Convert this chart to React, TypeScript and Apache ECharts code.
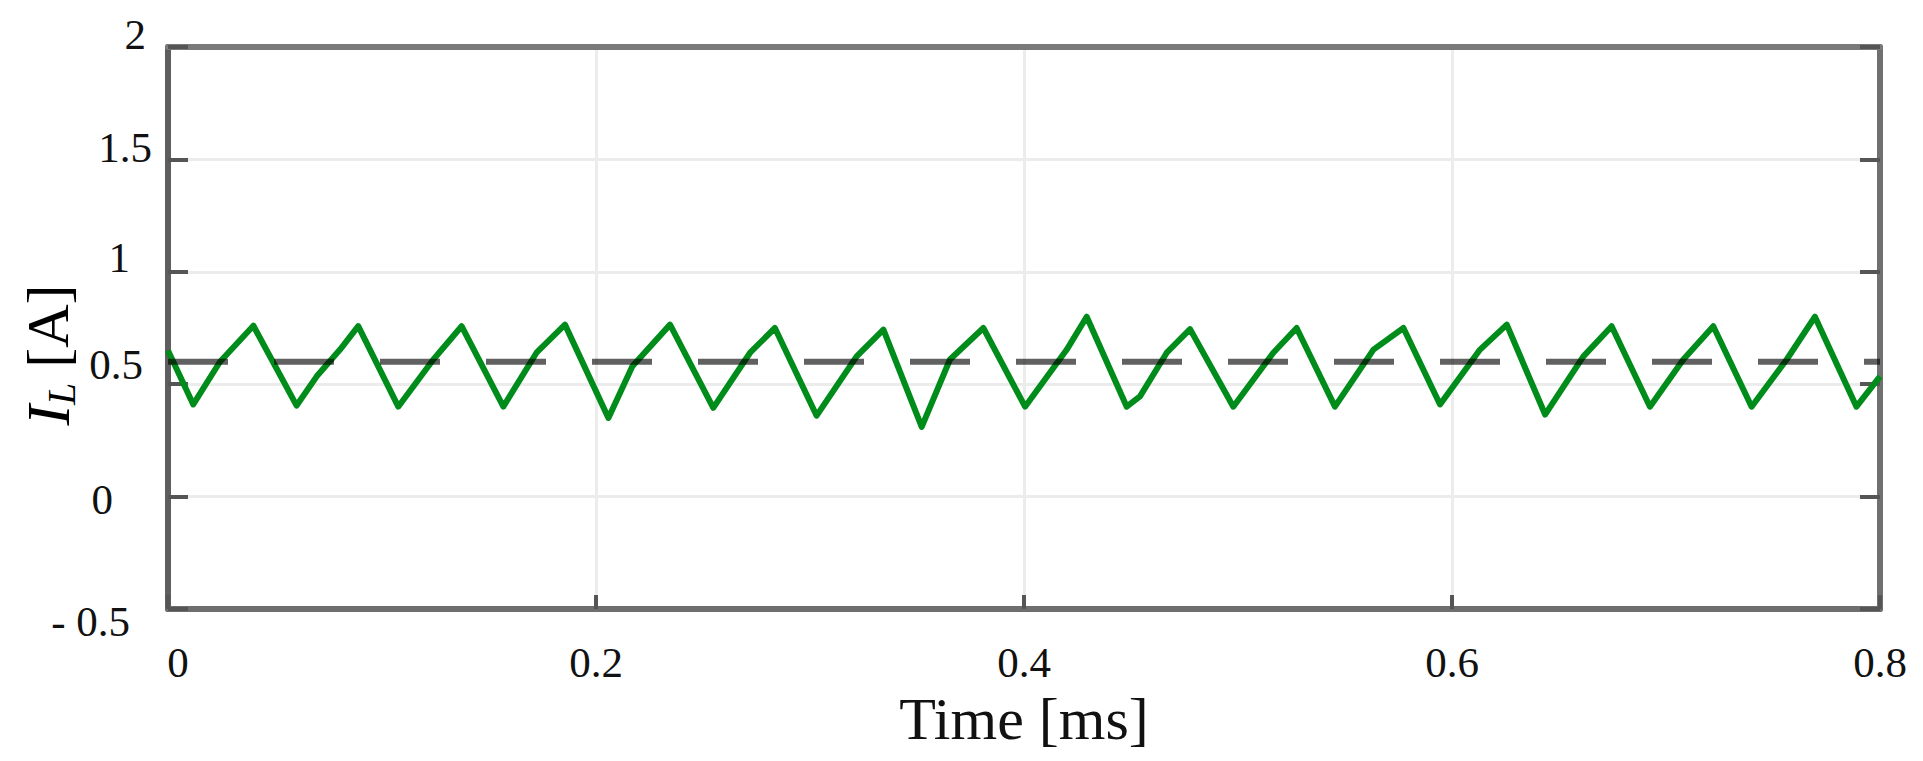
import React, { useEffect, useRef } from "react";
import * as echarts from "echarts";

// Time [ms] of the waveform's vertices (troughs, rising points, peaks)
const timeMs: number[] = [
  0.0, 0.0118, 0.0243, 0.0399, 0.0601, 0.0695, 0.0804, 0.0889, 0.1076, 0.124,
  0.1372, 0.1567, 0.1722, 0.1855, 0.2058, 0.217, 0.2346, 0.2548, 0.272, 0.2836,
  0.3031, 0.3218, 0.3343, 0.3522, 0.3654, 0.381, 0.4005, 0.42, 0.4293, 0.448,
  0.4542, 0.4667, 0.4776, 0.4978, 0.5165, 0.5274, 0.5453, 0.5633, 0.5773, 0.5944,
  0.6131, 0.6256, 0.6435, 0.6614, 0.6746, 0.6925, 0.7081, 0.7221, 0.74, 0.7564,
  0.7696, 0.789, 0.8,
];
// Inductor current I_L [A]
const currentA: number[] = [
  0.65, 0.41, 0.6, 0.76, 0.405, 0.535, 0.654, 0.758, 0.4, 0.61,
  0.758, 0.4, 0.64, 0.765, 0.35, 0.58, 0.765, 0.395, 0.64, 0.75,
  0.36, 0.624, 0.743, 0.31, 0.61, 0.75, 0.4, 0.654, 0.8, 0.4,
  0.446, 0.64, 0.745, 0.4, 0.64, 0.75, 0.4, 0.654, 0.75, 0.41,
  0.654, 0.765, 0.365, 0.624, 0.758, 0.4, 0.61, 0.758, 0.4, 0.61,
  0.8, 0.4, 0.535,
];
// Reference level (dashed)
const refTime: number[] = [0, 0.8];
const refLevel: number[] = [0.6, 0.6];

const xTicks: number[] = [0, 0.2, 0.4, 0.6, 0.8];
const yTickLabels: Record<string, string> = {
  "-0.5": "- 0.5",
  "0": "0",
  "0.5": "0.5",
  "1": "1",
  "1.5": "1.5",
  "2": "2",
};

const FONT = "'Liberation Serif', 'Times New Roman', serif";

export default function App() {
  const ref = useRef<HTMLDivElement>(null);

  useEffect(() => {
    if (!ref.current) return;
    const chart = echarts.init(ref.current, undefined, { renderer: "svg" });

    const yKey: Record<string, string> = {
      "2": "a",
      "1.5": "b",
      "1": "c",
      "0.5": "d",
      "0": "e",
      "-0.5": "f",
    };
    const base = { fontSize: 43, fontFamily: FONT, color: "#111", lineHeight: 46 };

    const option: any = {
      animation: false,
      backgroundColor: "#ffffff",
      grid: { left: 168, right: 43, top: 47, bottom: 152, containLabel: false },
      xAxis: [
        {
          type: "value",
          min: 0,
          max: 0.8,
          interval: 0.2,
          name: "Time [ms]",
          nameLocation: "middle",
          nameGap: 72,
          nameTextStyle: { fontSize: 60, fontFamily: FONT, color: "#111", lineHeight: 62 },
          axisLine: { show: true, onZero: false, lineStyle: { color: "#6e6e6e", width: 6 } },
          axisTick: { show: true, inside: true, length: 14, lineStyle: { color: "#555", width: 4 } },
          splitLine: { show: true, lineStyle: { color: "#ececec", width: 3 } },
          axisLabel: {
            margin: 30,
            formatter: (v: number) => {
              const s = String(Math.round(v * 10) / 10);
              return v === xTicks[0] ? "{z|" + s + "}" : "{n|" + s + "}";
            },
            rich: {
              z: { ...base, padding: [0, 0, 0, 20] },
              n: { ...base },
            },
          },
        },
        {
          type: "value",
          min: 0,
          max: 0.8,
          interval: 0.2,
          position: "top",
          axisLine: { show: true, onZero: false, lineStyle: { color: "#7a7a7a", width: 6 } },
          axisTick: { show: false },
          axisLabel: { show: false },
          splitLine: { show: false },
        },
      ],
      yAxis: [
        {
          type: "value",
          min: -0.5,
          max: 2,
          interval: 0.5,
          axisLine: { show: true, onZero: false, lineStyle: { color: "#5e5e5e", width: 6 } },
          axisTick: { show: true, inside: true, length: 20, lineStyle: { color: "#555", width: 4 } },
          splitLine: { show: true, lineStyle: { color: "#ececec", width: 3 } },
          axisLabel: {
            margin: 16,
            formatter: (v: number) => {
              const k = String(Math.round(v * 10) / 10);
              return "{" + (yKey[k] || "a") + "|" + (yTickLabels[k] ?? k) + "}";
            },
            rich: {
              a: { ...base, padding: [0, 6, 26, 0] },
              b: { ...base, padding: [0, 0, 24, 0] },
              c: { ...base, padding: [0, 22, 28, 0] },
              d: { ...base, padding: [0, 9, 40, 0] },
              e: { ...base, padding: [6, 39, 0, 0] },
              f: { ...base, padding: [24, 22, 0, 0] },
            },
          },
        },
        {
          type: "value",
          min: -0.5,
          max: 2,
          interval: 0.5,
          position: "right",
          axisLine: { show: true, onZero: false, lineStyle: { color: "#707070", width: 6 } },
          axisTick: { show: true, inside: true, length: 20, lineStyle: { color: "#555", width: 4 } },
          axisLabel: { show: false },
          splitLine: { show: false },
        },
      ],
      graphic: [
        {
          type: "text",
          x: 48,
          y: 355,
          rotation: Math.PI / 2,
          style: {
            text: "{i|I}{s|L}{n| [A]}",
            align: "center",
            verticalAlign: "middle",
            rich: {
              i: { fontSize: 62, fontFamily: FONT, fontStyle: "italic", color: "#111", lineHeight: 66 },
              s: {
                fontSize: 40,
                fontFamily: FONT,
                fontStyle: "italic",
                color: "#111",
                lineHeight: 40,
                verticalAlign: "bottom",
                padding: [30, 0, 0, 0],
              },
              n: { fontSize: 60, fontFamily: FONT, color: "#111", lineHeight: 66 },
            },
          },
        },
      ],
      series: [
        {
          type: "line",
          xAxisIndex: 0,
          yAxisIndex: 0,
          data: timeMs.map((t, i) => [t, currentA[i]]),
          showSymbol: false,
          symbol: "none",
          lineStyle: { color: "#008c1a", width: 6, join: "round" },
          z: 3,
        },
        {
          type: "line",
          xAxisIndex: 0,
          yAxisIndex: 0,
          data: refTime.map((t, i) => [t, refLevel[i]]),
          showSymbol: false,
          symbol: "none",
          lineStyle: { color: "rgba(0,0,0,0.62)", width: 6, type: [60, 46], dashOffset: 0 },
          z: 4,
        },
      ],
    };

    chart.setOption(option);
    return () => chart.dispose();
  }, []);

  return (
    <div
      ref={ref}
      style={{ position: "absolute", left: 0, top: 0, width: 1923, height: 761 }}
    />
  );
}
